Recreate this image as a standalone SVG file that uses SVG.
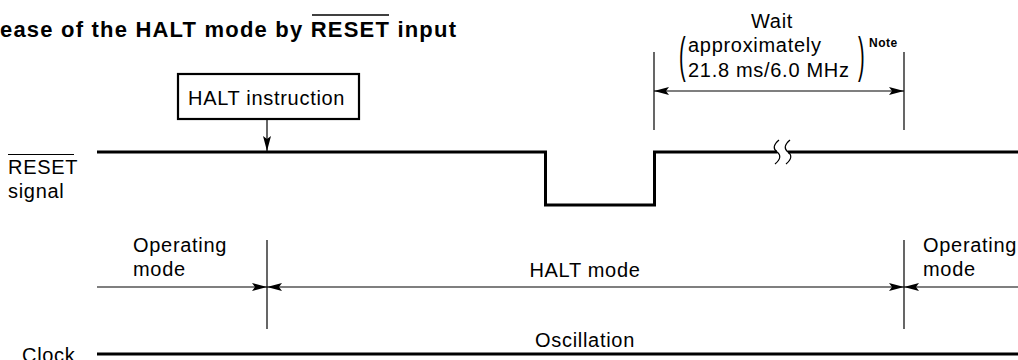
<svg xmlns="http://www.w3.org/2000/svg" width="1018" height="360" viewBox="0 0 1018 360">
<style>
text{font-family:"Liberation Sans",Arial,sans-serif;fill:#000}
.t{font-size:20px;letter-spacing:0.7px}
.b{font-weight:bold}
.thin{stroke:#000;stroke-width:1.2;fill:none}
.sig{stroke:#000;stroke-width:3;fill:none}
</style>
<defs>
<marker id="ah" markerWidth="15" markerHeight="8" refX="15" refY="4" orient="auto-start-reverse" markerUnits="userSpaceOnUse">
<path d="M0,0 L15,4 L0,8 L3,4 z" fill="#000"/>
</marker>
</defs>
<rect width="1018" height="360" fill="#fff"/>
<g id="title">
<text class="b" font-size="22" x="0" y="37" letter-spacing="1.2">ease of the HALT mode by RESET input</text>
<line x1="312" y1="15" x2="389" y2="15" stroke="#000" stroke-width="1.6"/>
</g>
<g id="halt-instruction">
<rect x="178" y="74" width="181" height="45" fill="#fff" stroke="#000" stroke-width="2.2"/>
<text class="t" x="188" y="105">HALT instruction</text>
</g>
<g id="reset-label">
<text class="t" x="8" y="174">RESET</text>
<line x1="8" y1="154.5" x2="74" y2="154.5" stroke="#000" stroke-width="1"/>
<text class="t" x="8" y="198">signal</text>
</g>
<g id="clock-label">
<text class="t" x="22" y="362">Clock</text>
</g>
<g id="wait-label">
<text class="t" x="772" y="28" text-anchor="middle">Wait</text>
<text class="t" transform="translate(679,71.5) scale(1,2.5)" x="0" y="0" style="letter-spacing:0">(</text>
<text class="t" x="688" y="52">approximately</text>
<text class="t" x="688" y="77">21.8 ms/6.0 MHz</text>
<text class="t" transform="translate(858,71.5) scale(1,2.5)" x="0" y="0" style="letter-spacing:0">)</text>
<text class="b" font-size="12" x="869" y="47" letter-spacing="0.5">Note</text>
</g>
<g id="mode-labels">
<text class="t" x="133" y="252">Operating</text>
<text class="t" x="133" y="276">mode</text>
<text class="t" x="585" y="277" text-anchor="middle">HALT mode</text>
<text class="t" x="923" y="252">Operating</text>
<text class="t" x="923" y="276">mode</text>
<text class="t" x="585" y="347" text-anchor="middle">Oscillation</text>
</g>
<g id="connectors">
<path class="sig" d="M97,152 H545.5 V205 H654.5 V152 H777"/>
<path class="sig" d="M788,152 H1018"/>
<path class="thin" d="M779,140 C773,145 773,149 777,152 C781,155 781,159 775,164"/>
<path class="thin" d="M790,140 C784,145 784,149 788,152 C792,155 792,159 786,164"/>
<path class="sig" d="M97,354 H1018"/>
<line class="thin" x1="267" y1="119" x2="267" y2="151" marker-end="url(#ah)"/>
<line class="thin" x1="654" y1="52" x2="654" y2="130"/>
<line class="thin" x1="904" y1="52" x2="904" y2="130"/>
<line class="thin" x1="654" y1="91" x2="904" y2="91" marker-start="url(#ah)" marker-end="url(#ah)"/>
<line class="thin" x1="267" y1="240" x2="267" y2="329"/>
<line class="thin" x1="904" y1="240" x2="904" y2="329"/>
<line class="thin" x1="97" y1="287" x2="267" y2="287" marker-end="url(#ah)"/>
<line class="thin" x1="267" y1="287" x2="904" y2="287" marker-start="url(#ah)" marker-end="url(#ah)"/>
<line class="thin" x1="1018" y1="287" x2="904" y2="287" marker-end="url(#ah)"/>
</g>
</svg>
